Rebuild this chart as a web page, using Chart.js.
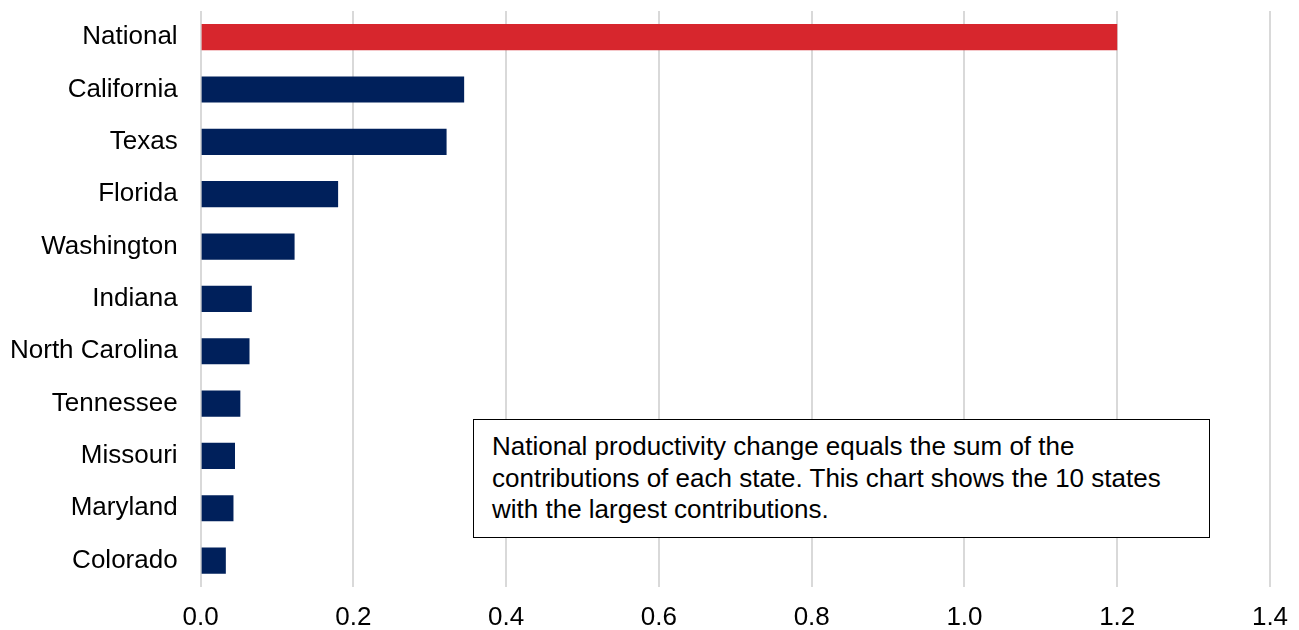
<!DOCTYPE html>
<html>
<head>
<meta charset="utf-8">
<script src="https://cdn.jsdelivr.net/npm/chart.js@4.4.1/dist/chart.umd.min.js"></script>
<style>
    html, body { margin: 0; padding: 0; background: #fff; }
    #wrap { position: relative; width: 1299px; height: 630px; }
    #note {
        position: absolute;
        left: 473px; top: 419px;
        width: 737px; height: 119px;
        box-sizing: border-box;
        border: 1.5px solid #000;
        background: #fff;
        padding: 11px 0 0 18px;
        font-family: "Liberation Sans", Arial, sans-serif;
        font-size: 26px;
        line-height: 31.5px;
        color: #000;
        white-space: nowrap;
    }
</style>
</head>
<body>
<div id="wrap">
    <canvas id="chart" width="1299" height="630"></canvas>
    <div id="note">National productivity change equals the sum of the<br>contributions of each state. This chart shows the 10 states<br>with the largest contributions.</div>
</div>
<script>
const states = ['National', 'California', 'Texas', 'Florida', 'Washington', 'Indiana',
    'North Carolina', 'Tennessee', 'Missouri', 'Maryland', 'Colorado'];
const contributions = [1.20, 0.345, 0.322, 0.180, 0.123, 0.067, 0.064, 0.052, 0.045, 0.043, 0.033];
const xTicks = [0, 0.2, 0.4, 0.6, 0.8, 1.0, 1.2, 1.4];

const RED = '#D7262D';
const NAVY = '#00205B';
const FONT = '"Liberation Sans", Arial, sans-serif';

const ctx = document.getElementById('chart').getContext('2d');
new Chart(ctx, {
    type: 'bar',
    data: {
        labels: states,
        datasets: [{
            data: contributions,
            backgroundColor: states.map(s => s === 'National' ? RED : NAVY),
            barPercentage: 0.5,
            categoryPercentage: 1.0
        }]
    },
    options: {
        indexAxis: 'y',
        responsive: false,
        animation: false,
        layout: { padding: { top: 11, right: 29, left: 10, bottom: 0 } },
        plugins: {
            legend: { display: false },
            tooltip: { enabled: false }
        },
        scales: {
            x: {
                min: 0,
                max: 1.4,
                afterBuildTicks: axis => { axis.ticks = xTicks.map(v => ({ value: v })); },
                // chart.js counts tick padding twice and adds label overhang; undo that
                afterFit: axis => {
                    axis.paddingLeft = 0;
                    axis.paddingRight = 0;
                    axis.height -= 18;
                },
                grid: { color: '#D9D9D9', lineWidth: 2, drawTicks: false },
                border: { display: false },
                ticks: {
                    padding: 15,
                    color: '#000',
                    font: { family: FONT, size: 26 },
                    callback: v => Number(v).toFixed(1)
                }
            },
            y: {
                afterFit: axis => {
                    axis.paddingTop = 0;
                    axis.paddingBottom = 0;
                    axis.width -= 23;
                },
                grid: { display: false, drawTicks: false },
                border: { display: false },
                ticks: {
                    padding: 23,
                    color: '#000',
                    font: { family: FONT, size: 26 }
                }
            }
        }
    }
});
</script>
</body>
</html>
